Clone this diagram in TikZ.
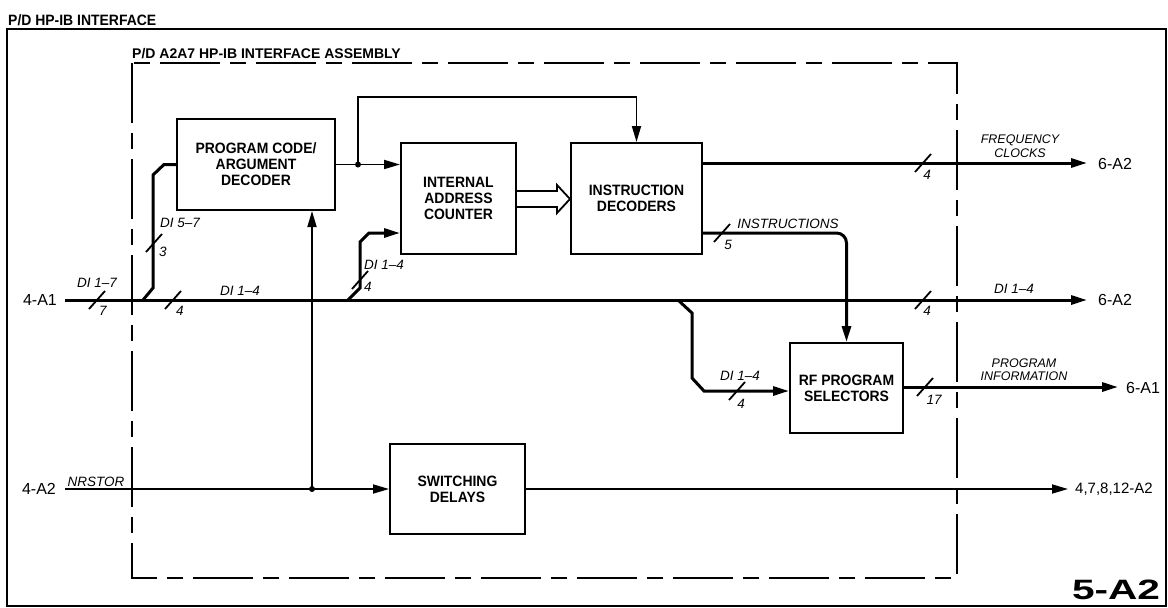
\documentclass[tikz,border=0pt]{standalone}
\usepackage{fontspec}
\usepackage{graphicx}
\setmainfont{Liberation Sans}
\newfontfamily\boxfont[FakeStretch=0.93,Ligatures=TeX]{Liberation Sans}
\newfontfamily\labfont[Ligatures=TeX]{Liberation Sans}
\usetikzlibrary{arrows.meta,calc}
\begin{document}
\begin{tikzpicture}[x=1pt,y=-1pt,
  blk/.style={draw, line width=2pt, align=center, inner sep=0pt,
    font=\boxfont\bfseries\fontsize{15}{16}\selectfont},
  bus/.style={line width=3pt},
  sig/.style={line width=1.8pt},
  arr/.style={-{Triangle[length=16pt,width=9pt]}},
  lab/.style={font=\labfont\itshape\fontsize{13.5}{13}\selectfont, inner sep=0pt, align=center},
  tag/.style={font=\labfont\fontsize{16}{16}\selectfont, inner sep=0pt},
  ttl/.style={font=\boxfont\bfseries\fontsize{15}{15}\selectfont, inner sep=0pt, anchor=base west},
  dot/.style={circle, fill=black, inner sep=0pt, minimum size=6pt},
  bmark/.pic={\draw[line width=1.8pt] (-8,9) -- (8,-9);}
]
\useasboundingbox (0,0) rectangle (1168,608);
% frames
\draw[line width=2pt] (7,29) rectangle (1166,606);
\node[ttl] (t1) at (8,25) {P/D HP-IB INTERFACE};
\draw[line width=2pt, dash pattern=on 60pt off 10pt on 16pt off 10pt] (132,63) rectangle (957,578);
\node[ttl, font=\labfont\bfseries\fontsize{14}{14}\selectfont] (t2) at (132,58) {P/D A2A7 HP-IB INTERFACE ASSEMBLY};
% blocks
\node[blk, minimum width=158pt, minimum height=91pt] (pcd) at (256,164.5) {PROGRAM CODE/\\ARGUMENT\\DECODER};
\node[blk, minimum width=115pt, minimum height=111pt] (iac) at (458.5,198.5) {INTERNAL\\ADDRESS\\COUNTER};
\node[blk, minimum width=131pt, minimum height=111pt] (idc) at (636.5,198.5) {INSTRUCTION\\DECODERS};
\node[blk, minimum width=113pt, minimum height=90pt] (rfs) at (846.5,388) {RF PROGRAM\\SELECTORS};
\node[blk, minimum width=135pt, minimum height=90pt] (swd) at (457.5,489) {SWITCHING\\DELAYS};
% terminals
\node[tag] (a1) at (40,300) {4-A1};
\node[tag] (a2) at (39,489) {4-A2};
\node[tag, anchor=west] (o1) at (1098,164) {6-A2};
\node[tag, anchor=west] (o2) at (1098,300) {6-A2};
\node[tag, anchor=west] (o3) at (1126,388) {6-A1};
\node[tag, anchor=west, font=\labfont\fontsize{15}{15}\selectfont] (o4) at (1075,489) {4,7,8,12-A2};
\node[inner sep=0pt] (fig) at (1116,590) {\scalebox{1.45}[1]{\fontsize{28}{28}\selectfont\bfseries 5-A2}};
% coordinates
\coordinate (d1) at (358,164.5);
\coordinate (d2) at (312,489);
\coordinate (m0) at (65,300);
\coordinate (m1) at (1087,300);
\coordinate (f0) at (702,163);
\coordinate (f1) at (1087,163);
\coordinate (n0) at (65,489);
\coordinate (n1) at (1068,489);
\coordinate (p0) at (903,387);
\coordinate (p1) at (1118,387);
\coordinate (i0) at (702,233);
% main bus
\draw[bus,arr] (m0) -- (m1);
% DI 5-7 branch
\draw[bus] (143,300) -- (153,288) -- (153,175) -- (164,164.5) -- (pcd.west);
% DI 1-4 branch to IAC
\draw[bus,arr] (348,300) -- (360,288) -- (360,242) -- (369,233) -- (iac.west |- 0,233);
% branch to RF selectors
\draw[bus,arr] (678,300) -- (692,313) -- (692,378) -- (704,391) -- (rfs.west |- 0,391);
% decoder to counter
\draw[sig,arr] (pcd.east) -- (iac.west |- pcd.east);
\draw[sig,arr] (d1) -- (358,97) -| (idc.north);
\node[dot] at (d1) {};
% hollow arrow
\draw[sig, fill=white, line join=miter] (iac.east |- 0,191) -- (557,191) -- (557,185) -- (idc.west |- 0,199) -- (557,213) -- (557,207) -- (iac.east |- 0,207);
% outputs
\draw[bus,arr] (f0) -- (f1);
\draw[bus,arr,rounded corners=10pt] (i0) -- (846.5,233) -- (rfs.north);
\draw[bus,arr] (p0) -- (p1);
% NRSTOR
\draw[sig,arr] (n0) -- (swd.west);
\draw[sig,arr] (swd.east) -- (n1);
\draw[sig,arr] (d2) -- (d2 |- pcd.south);
\node[dot] at (d2) {};
% bus marks
\pic at (97,300) {bmark};
\pic at (173,300) {bmark};
\pic at (154,243) {bmark};
\pic at (360,280) {bmark};
\pic at (722,233) {bmark};
\pic at (923,163) {bmark};
\pic at (923,300) {bmark};
\pic at (737,391) {bmark};
\pic at (925,387) {bmark};
% labels
\node[lab] (l1) at (97,283) {DI 1--7};
\node[lab] (n7) at (103,311) {7};
\node[lab] (n4a) at (180,311) {4};
\node[lab] (l2) at (240,291) {DI 1--4};
\node[lab] (l3) at (180,223) {DI 5--7};
\node[lab] (n3) at (163,252) {3};
\node[lab] (l4) at (384,265) {DI 1--4};
\node[lab] (n4b) at (368,287) {4};
\node[lab] (l5) at (788,224) {INSTRUCTIONS};
\node[lab] (n5) at (728,245) {5};
\node[lab, font=\labfont\itshape\fontsize{12.5}{14}\selectfont] (l6) at (1020,146) {FREQUENCY\\CLOCKS};
\node[lab] (n4c) at (927,175) {4};
\node[lab] (l7) at (1014,289) {DI 1--4};
\node[lab] (n4d) at (927,311) {4};
\node[lab] (l8) at (740,376) {DI 1--4};
\node[lab] (n4e) at (741,404) {4};
\node[lab, font=\labfont\itshape\fontsize{12.5}{13}\selectfont] (l9) at (1024,370) {PROGRAM\\INFORMATION};
\node[lab] (n17) at (934,400) {17};
\node[lab] (l10) at (96,482) {NRSTOR};
\end{tikzpicture}
\end{document}
